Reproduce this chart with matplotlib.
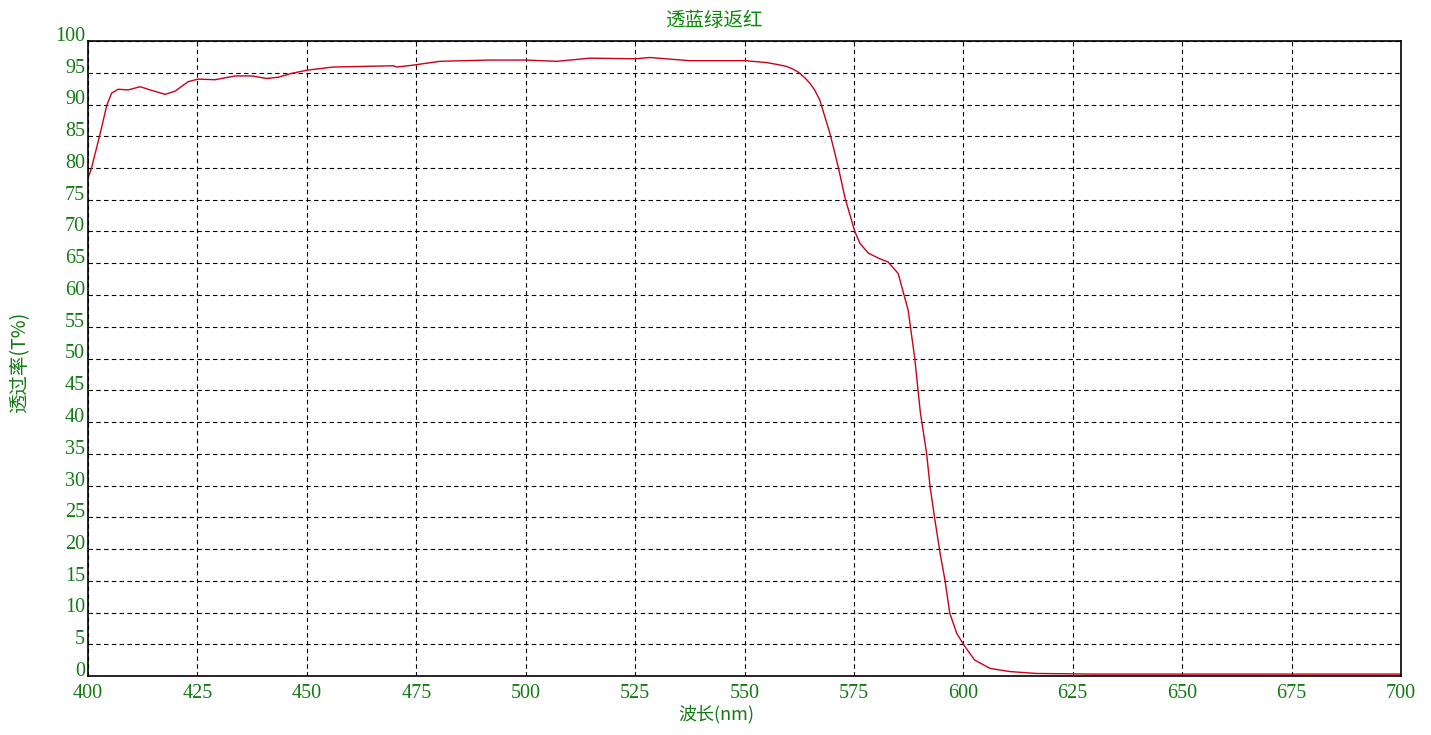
import matplotlib
matplotlib.use("Agg")
import matplotlib.pyplot as plt
import numpy as np

# wavelength (nm) and transmittance (%)
wl = [400.0, 400.8, 402.7, 404.3, 405.4, 406.9, 409.2, 411.9, 414.2, 417.6,
      419.9, 422.9, 425.2, 429.0, 433.6, 437.4, 440.8, 443.5, 446.5, 450.0,
      456.0, 469.8, 470.5, 474.3, 480.4, 491.8, 500.2, 507.1, 514.7, 525.0,
      528.4, 537.5, 550.1, 555.1, 557.5, 559.6, 561.0, 562.3, 563.8, 565.0,
      566.1, 567.2, 569.5, 571.4, 573.0, 575.2, 576.4, 578.3, 580.6, 582.8,
      585.1, 587.4, 588.9, 590.2, 591.6, 592.4, 593.5, 594.7, 595.8, 596.9,
      598.5, 600.4, 602.6, 606.1, 610.6, 616.7, 630.0, 660.0, 700.0]
trans = [78.4, 80.0, 85.2, 89.9, 91.8, 92.4, 92.3, 92.8, 92.3, 91.6,
         92.1, 93.6, 94.0, 93.9, 94.5, 94.5, 94.1, 94.3, 94.9, 95.4,
         95.9, 96.1, 95.9, 96.2, 96.8, 97.0, 97.0, 96.8, 97.3, 97.2,
         97.4, 96.9, 96.9, 96.6, 96.3, 96.0, 95.6, 95.1, 94.2, 93.3,
         92.2, 90.7, 85.5, 80.2, 75.2, 70.0, 68.1, 66.6, 65.8, 65.2,
         63.4, 57.6, 50.0, 41.4, 35.1, 29.8, 24.6, 19.3, 15.1, 9.9,
         6.7, 4.6, 2.5, 1.2, 0.7, 0.4, 0.3, 0.3, 0.3]

xticks = list(range(400, 701, 25))
yticks = list(range(0, 101, 5))

green = "#137a13"
cjk = ["Noto Sans CJK SC", "DejaVu Sans"]

fig = plt.figure(figsize=(14.31, 7.35), dpi=100)
ax = fig.add_axes([88/1431, 1-676/735, (1401-88)/1431, (676-41)/735])

ax.plot(wl, trans, color="#cc0018", lw=1.0)

ax.set_xlim(400, 700)
ax.set_ylim(0, 100)
ax.set_xticks(xticks)
ax.set_yticks(yticks)
ax.grid(True, color="black", linestyle=(0, (4, 3)), linewidth=0.8)
for s in ax.spines.values():
    s.set_linewidth(1.2)

ax.tick_params(length=0, labelcolor=green, labelsize=14.5)
ax.tick_params(axis="x", pad=6)
ax.tick_params(axis="y", pad=2)
for lab in ax.get_xticklabels() + ax.get_yticklabels():
    lab.set_fontfamily("Liberation Serif")
for lab in ax.get_yticklabels():
    lab.set_va("baseline")

fig.text(714/1431, 1-20/735, "透蓝绿返红", ha="center", va="center",
         color="#0a8a0a", fontsize=14, family=cjk)
fig.text(716/1431, 1-714/735, "波长(nm)", ha="center", va="center",
         color=green, fontsize=13, family=cjk)
fig.text(20/1431, 1-362/735, "透过率(T%)", ha="center", va="center",
         rotation=90, color=green, fontsize=14, family=cjk)

fig.savefig("out.png", dpi=100)
